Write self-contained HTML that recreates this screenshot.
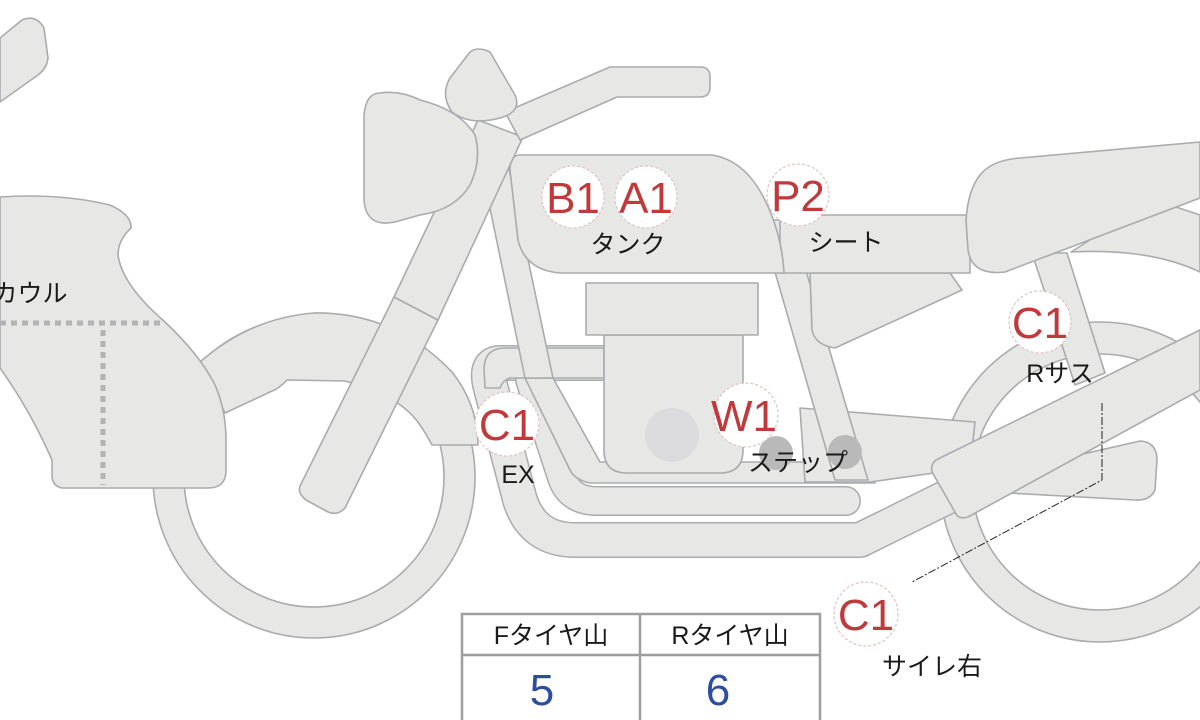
<!DOCTYPE html>
<html><head><meta charset="utf-8"><style>
html,body{margin:0;padding:0;background:#fff;}
svg{display:block;}
.s{fill:#e7e7e5;stroke:#a9abae;stroke-width:1.6;stroke-linejoin:round;}
.lb{font-family:"Liberation Sans","Noto Sans CJK JP",sans-serif;font-size:44px;fill:#c03a3c;text-anchor:middle;}
.bk{font-family:"Liberation Sans","Noto Sans CJK JP",sans-serif;font-size:25px;fill:#1a1a1a;text-anchor:middle;}
.cir{fill:#fff;stroke:#dcc4c4;stroke-width:1.2;stroke-dasharray:3 2;}
</style></head><body>
<svg width="1200" height="720" viewBox="0 0 1200 720" xmlns="http://www.w3.org/2000/svg">
<path class="s" fill-rule="evenodd" d="M1260 482 A160 160 0 1 1 940 482 A160 160 0 1 1 1260 482 Z M1228 482 A128 128 0 1 0 972 482 A128 128 0 1 0 1228 482 Z"/>
<path class="s" fill-rule="evenodd" d="M475 477 A161 161 0 1 1 153 477 A161 161 0 1 1 475 477 Z M444 477 A130 130 0 1 0 184 477 A130 130 0 1 0 444 477 Z"/>
<path class="s" d="M200 362 Q250 318 314 313 Q395 312 452 372 Q478 405 478 445 L432 445 Q425 432 420 425 Q400 395 345 381 L287 380 Q280 388 270 392 L225 413 Z"/>
<path class="s" d="M1090 240 Q1140 210 1170 205 L1200 215 L1200 272 Q1150 248 1071 252 Z"/>
<path class="s" d="M960 482 L1140 441 Q1157 442 1157 460 L1155 490 Q1150 501 1135 500 L990 492 Z"/>
<path class="s" d="M1032 253 L1067 253 L1105 373 L1075 385 Z"/>
<path d="M604 363 L500 363 Q485 363 490 385 L520 500 Q533 540 575 540 L860 540 L1010 466" fill="none" stroke="#a9abae" stroke-width="36" stroke-linejoin="round"/>
<path d="M604 363 L500 363 Q485 363 490 385 L520 500 Q533 540 575 540 L860 540 L1010 466" fill="none" stroke="#e7e7e5" stroke-width="33" stroke-linejoin="round"/>
<path d="M530 380 L562 478 Q570 501 597 501 L846 501" fill="none" stroke="#a9abae" stroke-width="30" stroke-linecap="round"/>
<path d="M530 380 L562 478 Q570 501 597 501 L846 501" fill="none" stroke="#e7e7e5" stroke-width="27" stroke-linecap="round"/>
<path class="s" d="M525 378 L553 378 L600 462 L870 462 L875 483 L590 483 Q575 480 570 470 Z"/>
<path class="s" d="M604 348 L604 378 L510 378 Q503 380 500 388 L485 388 L484 368 Q485 348 505 348 Z"/>
<path class="s" d="M478 150 L505 150 L553 378 L525 378 Z"/>
<path class="s" d="M800 408 L975 422 L970 468 L870 482 L805 482 Z"/>
<path class="s" d="M760 220 L791 220 L868 480 L835 480 Z"/>
<path class="s" d="M810 273 L950 273 L962 290 L835 348 Q815 345 812 330 Z"/>
<path class="s" d="M940 458 L1200 330 L1200 390 L968 517 Q958 520 955 512 L932 472 Q930 462 940 458 Z"/>
<path class="s" d="M604 335 L743 335 L743 450 Q743 473 720 473 L627 473 Q604 473 604 450 Z"/>
<rect class="s" x="586" y="283" width="172" height="52"/>
<circle cx="672" cy="435" r="27" fill="#dcdcde"/>
<circle cx="776" cy="453" r="17" fill="#b9b9b9"/>
<circle cx="845" cy="452" r="17" fill="#b9b9b9"/>
<rect class="s" x="780" y="215" width="190" height="58"/>
<path class="s" d="M980 175 Q992 160 1020 158 L1200 142 L1200 198 L1005 272 Q972 276 968 250 L966 220 Q968 190 980 175 Z"/>
<path class="s" d="M520 155 L712 155 Q745 160 765 200 Q782 235 784 273 L560 273 Q525 270 518 240 L510 170 Q510 155 520 155 Z"/>
<path class="s" d="M394 297 L438 320 L345 508 Q338 516 328 512 L306 500 Q296 492 301 484 Z"/>
<path class="s" d="M478 120 L523 137 L438 320 L394 297 Z"/>
<path class="s" d="M505 112 L610 67 L700 67 Q710 67 710 77 L710 87 Q710 97 700 97 L617 97 L520 140 Z"/>
<path class="s" d="M470 52 Q478 46 490 52 L515 95 Q522 112 500 118 Q470 126 452 112 Q440 95 450 78 Z"/>
<path class="s" d="M380 93 Q400 90 420 100 Q460 110 475 135 Q482 160 470 185 Q455 210 420 215 L395 222 Q366 228 364 200 L364 115 Q366 93 380 93 Z"/>
<path class="s" d="M0 197 Q60 193 110 205 Q132 215 131 228 Q118 240 118 255 Q122 285 165 322 Q200 355 215 385 Q226 410 226 440 L226 472 Q225 488 208 488 L62 488 Q52 486 52 475 L52 460 Q30 410 0 368 Z"/>
<path class="s" d="M0 38 L22 20 Q36 14 44 28 L48 58 Q47 68 38 75 L0 102 Z"/>
<path d="M0 323 L163 323 M103 330 L103 485" stroke="#b3b3b5" stroke-width="5" stroke-dasharray="6 5" fill="none"/>
<path d="M1102 403 L1102 480 L912 582" stroke="#222" stroke-width="1" stroke-dasharray="8 2 2 2" fill="none"/>
<circle class="cir" cx="573" cy="197" r="31"/><text class="lb" x="573" y="213">B1</text>
<circle class="cir" cx="646" cy="197" r="31"/><text class="lb" x="646" y="213">A1</text>
<circle class="cir" cx="798" cy="195" r="31"/><text class="lb" x="798" y="211">P2</text>
<circle class="cir" cx="1040" cy="322" r="31"/><text class="lb" x="1040" y="338">C1</text>
<circle class="cir" cx="507" cy="424" r="32"/><text class="lb" x="507" y="440">C1</text>
<circle class="cir" cx="746" cy="415" r="32"/><text class="lb" x="744" y="431">W1</text>
<circle class="cir" cx="866" cy="614" r="32"/><text class="lb" x="866" y="630">C1</text>
<text class="bk" x="628" y="253">タンク</text>
<text class="bk" x="846" y="251">シート</text>
<text class="bk" x="30" y="302">カウル</text>
<text class="bk" x="1060" y="382">Rサス</text>
<text class="bk" x="518" y="483">EX</text>
<text class="bk" x="798" y="471">ステップ</text>
<text class="bk" x="932" y="675">サイレ右</text>
<rect x="462" y="614" width="358" height="110" fill="#fff" stroke="#9c9ea0" stroke-width="2.5"/>
<line x1="462" y1="655" x2="820" y2="655" stroke="#9c9ea0" stroke-width="2.5"/>
<line x1="640" y1="614" x2="640" y2="720" stroke="#9c9ea0" stroke-width="2.5"/>
<text class="bk" x="551" y="644">Fタイヤ山</text>
<text class="bk" x="730" y="644">Rタイヤ山</text>
<text x="542" y="705" font-family="Liberation Sans,sans-serif" font-size="44" fill="#2d4d9e" text-anchor="middle">5</text>
<text x="718" y="705" font-family="Liberation Sans,sans-serif" font-size="44" fill="#2d4d9e" text-anchor="middle">6</text>
</svg>
</body></html>
